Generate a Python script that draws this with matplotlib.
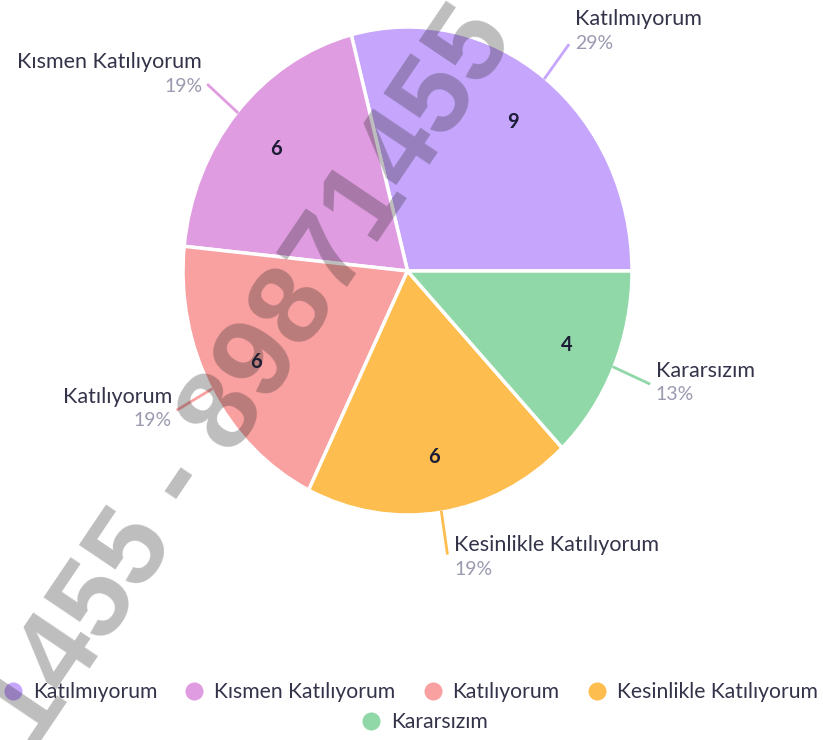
import matplotlib.pyplot as plt
import numpy as np
from matplotlib.lines import Line2D

categories = ["Katılmıyorum", "Kısmen Katılıyorum", "Katılıyorum",
              "Kesinlikle Katılıyorum", "Kararsızım"]
counts = [9, 6, 6, 6, 4]
colors = ["#c6a6fc", "#e09ce0", "#f9a0a0", "#fdbe4f", "#90d8a8"]
watermark = "1455 - 89871455"

# label placement: horizontal side and vertical shift (px) of the name line
label_side = ["left", "right", "right", "left", "left"]
name_shift = [26, 23, 13, 8, 13]

W, H = 823, 740
cx, cy, rx, ry = 407.5, 271, 224.5, 244
FONT = "Lato"
TEXT_COLOR = "#33334a"
PCT_COLOR = "#9a9ab0"

fig = plt.figure(figsize=(W / 100, H / 100), dpi=100)
ax = fig.add_axes([(cx - rx) / W, 1 - (cy + ry) / H, 2 * rx / W, 2 * ry / H])

total = sum(counts)
wedges, _, inner = ax.pie(
    counts,
    colors=colors,
    startangle=0,
    counterclock=True,
    autopct=lambda p: f"{round(p * total / 100)}",
    pctdistance=0.77,
    wedgeprops=dict(edgecolor="white", linewidth=2.5),
)
for t in inner:
    t.set_fontfamily(FONT)
    t.set_fontweight("bold")
    t.set_fontsize(14.5)
    t.set_color("#1c1c36")

ax.set_aspect("auto")
ax.set_xlim(-1, 1)
ax.set_ylim(-1, 1)
ax.axis("off")

for w, name, n, side, shift in zip(wedges, categories, counts, label_side, name_shift):
    mid = np.deg2rad((w.theta1 + w.theta2) / 2)
    x0, y0 = np.cos(mid), np.sin(mid)
    x1, y1 = 1.17 * x0, 1.17 * y0
    ax.plot([x0, x1], [y0, y1], color=w.get_facecolor(), lw=2, clip_on=False)
    dx = 7 if side == "left" else -6
    ax.annotate(name, xy=(x1, y1), xytext=(dx, shift), textcoords="offset pixels",
                ha=side, va="center", fontsize=15.5, family=FONT, color=TEXT_COLOR,
                annotation_clip=False)
    ax.annotate(f"{round(100 * n / total)}%", xy=(x1, y1), xytext=(dx, shift - 24),
                textcoords="offset pixels", ha=side, va="center", fontsize=14,
                family=FONT, color=PCT_COLOR, annotation_clip=False)

handles = [Line2D([], [], marker="o", ls="", markersize=13, color=c,
                  markeredgewidth=0) for c in colors]
leg_kw = dict(frameon=False, handlelength=1.0, handletextpad=0.45,
              columnspacing=1.25, prop=dict(family=FONT, size=15.2),
              labelcolor=TEXT_COLOR)
fig.legend(handles[:4], categories[:4], loc="center", ncol=4,
           bbox_to_anchor=(410 / W, 1 - 692 / H), **leg_kw)
fig.legend(handles[4:], categories[4:], loc="center", ncol=1,
           bbox_to_anchor=(424 / W, 1 - 722 / H), **leg_kw)

fig.text(251 / W, 1 - 378 / H, watermark, rotation=56, rotation_mode="anchor",
         ha="center", va="center", fontsize=82, fontweight="bold",
         family="Liberation Sans", color="#262626", alpha=0.3, zorder=10)

fig.savefig("out.png", dpi=100)
